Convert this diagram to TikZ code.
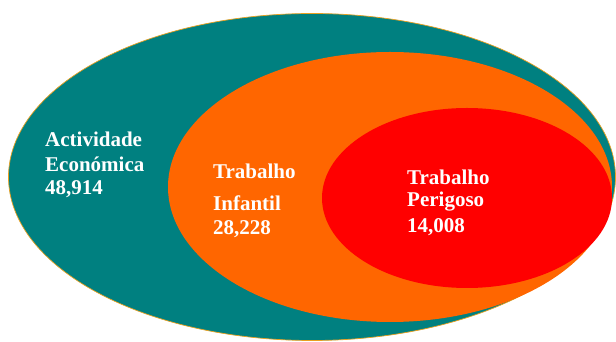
\documentclass[tikz,border=0pt]{standalone}
\usepackage{fontspec}
\setmainfont{Liberation Serif}
\definecolor{tealc}{HTML}{008080}
\definecolor{orangec}{HTML}{FF6600}
\definecolor{redc}{HTML}{FF0000}
\definecolor{rimc}{HTML}{E8A020}
\begin{document}
\begin{tikzpicture}[x=1pt,y=1pt,
  lbl/.style={anchor=base west,inner sep=0pt,text=white,font=\fontsize{21}{25}\selectfont\bfseries}]
\useasboundingbox (0,0) rectangle (616,342);
\fill[tealc] (312,165) ellipse [x radius=303.5, y radius=163.5];
\draw[rimc,line width=0.7pt] (312,165) ellipse [x radius=303.5, y radius=163.5];
\fill[orangec] (390,155) ellipse [x radius=222, y radius=135];
\fill[redc] (467,144) ellipse [x radius=145, y radius=90];
\node[lbl] (a1) at (45,195) {Actividade};
\node[lbl] (a2) at (45,170) {Económica};
\node[lbl] (a3) at (45,147) {48,914};
\node[lbl] (b1) at (213,163) {Trabalho};
\node[lbl] (b2) at (213,131) {Infantil};
\node[lbl] (b3) at (213,107) {28,228};
\node[lbl] (c1) at (407,157) {Trabalho};
\node[lbl] (c2) at (407,135) {Perigoso};
\node[lbl] (c3) at (407,109) {14,008};
\end{tikzpicture}
\end{document}
